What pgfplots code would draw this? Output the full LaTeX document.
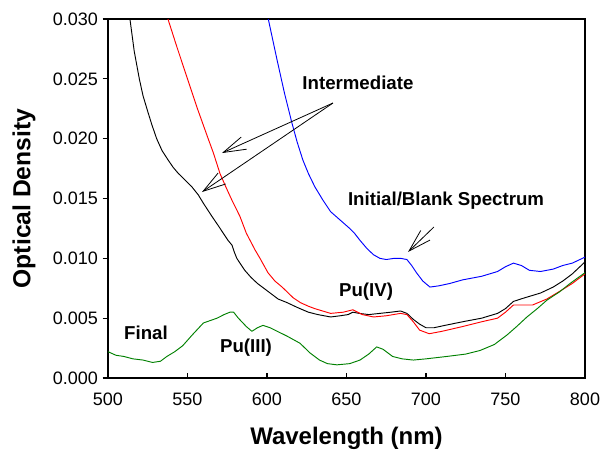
\documentclass[border=0pt]{standalone}
\usepackage{fontspec}
\setmainfont{Liberation Sans}
\usepackage{pgfplots}
\pgfplotsset{compat=1.18}
\usetikzlibrary{arrows.meta}
\definecolor{cblue}{RGB}{0,0,255}
\definecolor{cred}{RGB}{255,0,0}
\definecolor{cgreen}{RGB}{0,128,0}
\begin{document}
\begin{tikzpicture}
\path[use as bounding box] (-81pt,-54pt) rectangle (371.25pt,283.5pt);
\begin{axis}[
  scale only axis, width=357.75pt, height=269.25pt,
  xmin=500, xmax=800, ymin=0, ymax=0.03,
  xtick={500,550,600,650,700,750,800},
  ytick={0,0.005,0.01,0.015,0.02,0.025,0.03},
  scaled y ticks=false,
  yticklabel style={/pgf/number format/.cd, fixed, fixed zerofill, precision=3},
  xticklabel style={yshift=-8pt},
  /pgf/number format/assume math mode=true,
  tick label style={font=\fontsize{13.5}{16}\selectfont},
  xtick pos=left, ytick pos=left,
  xtick align=inside, ytick align=outside,
  major tick length=4pt,
  axis line style={line width=0.8pt},
  tick style={line width=0.8pt, black},
  xlabel={Wavelength (nm)},
  ylabel={Optical Density},
  xlabel style={font=\fontsize{18}{20}\selectfont\bfseries, at={(axis description cs:0.5,-0.167)}, anchor=center},
  ylabel style={font=\fontsize{18.5}{20}\selectfont\bfseries, at={(axis description cs:-0.176,0.5)}, anchor=center},
  every axis plot/.append style={line width=0.7pt, no marks, line join=round},
]
% Black (intermediate 2)
\addplot[black] coordinates {
(508,0.0355) (513.8,0.0300) (516.5,0.0273) (519.7,0.0250) (522,0.0236) (524.7,0.0224)
(527.5,0.0212) (530.6,0.0200) (534,0.0190) (537.9,0.0182) (541,0.0176) (544.2,0.0171)
(548,0.0166) (552.6,0.0160) (556.8,0.0153) (560,0.0146) (565.4,0.0135) (569,0.0128)
(572.5,0.0121) (575.5,0.0115) (578,0.0111) (579.5,0.0105) (581,0.0100) (583.5,0.0095)
(586,0.0090) (590,0.0084) (594,0.0079) (598,0.0075) (602,0.0071) (607,0.0066)
(612.6,0.0063) (619,0.0059) (626,0.0055) (632,0.0053) (640,0.0051) (646,0.0052)
(651,0.0053) (654,0.0055) (658,0.0054) (664,0.0053) (671,0.0054) (678,0.0055)
(684,0.0056) (688,0.0054) (692,0.0049) (696,0.0045) (700,0.0042) (705,0.0042)
(712,0.0044) (723,0.0047) (735,0.0050) (745,0.0054) (750,0.0058) (755,0.0064)
(762,0.0067) (772,0.0071) (780,0.0076) (786,0.0081) (792,0.0087) (800,0.0097)
};
% Red (intermediate 1)
\addplot[cred] coordinates {
(533,0.0330) (537.7,0.0300) (543,0.0278) (550,0.0250) (556,0.0226) (563,0.0200)
(566.3,0.0188) (570.4,0.0171) (574,0.0160) (577.8,0.0149) (583,0.0135) (587,0.0121)
(592.5,0.0107) (595.6,0.0100) (600.6,0.0088) (605,0.0081) (609.5,0.0076) (616.5,0.0067)
(621,0.0063) (626,0.0060) (630,0.0058) (635,0.0056) (640,0.0054) (648,0.0055)
(654,0.0057) (660,0.0053) (667,0.0051) (675,0.0052) (684,0.0054) (688,0.0053)
(692,0.0047) (696,0.0040) (702,0.0037) (710,0.0039) (723,0.0043) (735,0.0047)
(745,0.0050) (750,0.0055) (755,0.0061) (767,0.0061) (776,0.0066) (786,0.0074)
(792,0.0079) (800,0.0087)
};
% Blue (initial / blank)
\addplot[cblue] coordinates {
(596,0.0340) (600.8,0.0300) (606.3,0.0266) (611,0.0238) (615.5,0.0214) (619,0.0197)
(622.6,0.0182) (626,0.0171) (630,0.0160) (635,0.0149) (640,0.0139) (646,0.0132)
(652,0.0125) (655,0.0121) (658.5,0.0115) (663,0.0108) (667,0.0103) (671,0.0100)
(675,0.0099) (680,0.0100) (684,0.0100) (688,0.0099) (691,0.0094) (694,0.0088)
(698,0.0081) (702.5,0.0076) (708,0.0077) (715,0.0079) (723,0.0082) (735,0.0085)
(745,0.0089) (750,0.0093) (755,0.0096) (760,0.0094) (765,0.0090) (772,0.0089)
(780,0.0091) (786,0.0094) (792,0.0096) (800,0.0101)
};
% Green (final)
\addplot[cgreen] coordinates {
(500,0.0022) (505,0.0019) (510,0.0018) (515.7,0.0016) (522,0.0015) (528,0.0013)
(533,0.0014) (537,0.0018) (542,0.0022) (547,0.0027) (553,0.0036) (560,0.0046)
(568.6,0.0050) (573,0.0053) (576.7,0.0055) (579,0.0055) (582,0.0050) (587,0.0043)
(590.5,0.0039) (594,0.0042) (597.5,0.0044) (602,0.0042) (608,0.0038) (612.6,0.0035)
(620.8,0.0029) (627,0.0021) (633,0.0015) (638,0.0012) (644,0.0011) (652,0.0012)
(658.5,0.0015) (664,0.0020) (669,0.0026) (673,0.0024) (679,0.0018) (685,0.0016)
(692,0.0015) (700,0.0016) (713,0.0018) (725,0.0020) (734,0.0023) (743,0.0028)
(751,0.0036) (757,0.0043) (763.5,0.0051) (770,0.0058) (776,0.0065) (784,0.0072)
(790.6,0.0079) (800,0.0088)
};
% annotations
\node[font=\fontsize{14}{16}\selectfont\bfseries] at (axis cs:657.2,0.02465) {Intermediate};
\node[font=\fontsize{14}{16}\selectfont\bfseries] at (axis cs:712.6,0.01479) {Initial/Blank Spectrum};
\node[font=\fontsize{14}{16}\selectfont\bfseries] at (axis cs:662.3,0.00719) {Pu(IV)};
\node[font=\fontsize{14}{16}\selectfont\bfseries] at (axis cs:523.9,0.00376) {Final};
\node[font=\fontsize{14}{16}\selectfont\bfseries] at (axis cs:586.8,0.00251) {Pu(III)};
\draw[line width=0.6pt, -{Straight Barb[length=17pt,width=10pt]}] (axis cs:641.5,0.02298) -- (axis cs:571.7,0.0188);
\draw[line width=0.6pt, -{Straight Barb[length=17pt,width=10pt]}] (axis cs:641.5,0.02298) -- (axis cs:559.1,0.01554);
\draw[line width=0.6pt, -{Straight Barb[length=17pt,width=10pt]}] (axis cs:705,0.01262) -- (axis cs:688.7,0.01053);
\end{axis}
\end{tikzpicture}
\end{document}
